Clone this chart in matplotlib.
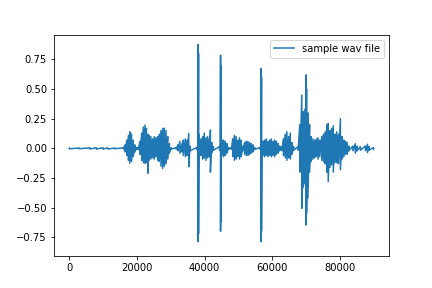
# Waveform of a sample wav file (envelope)
import numpy as np
import matplotlib
matplotlib.use("Agg")
import matplotlib.pyplot as plt

# sample index, upper peak, lower peak
env_x = [0, 3000, 6100, 8000, 10000, 11400, 13500, 16000,
         16500, 17000, 17500, 17900, 18400, 18900, 19400, 19900, 20400,
         20900, 21400, 21900, 22400, 22800, 23200, 23600, 24100, 24600, 25100,
         25600, 26100, 26600, 27100, 27600, 28100, 28600, 29100, 29600, 30100,
         31600, 32100, 32700, 33300, 33700, 34300, 34800, 35300, 35700, 37700,
         38000, 38100, 38200, 38300, 38900, 39400, 39900, 40400, 40900, 41400, 41700, 42100,
         42600, 44400, 44600, 44700, 44800, 44900, 45100, 45600, 46100, 46600, 47100, 47900,
         48300, 48800, 49300, 49800, 50300, 50800, 51300, 51800, 52300, 52800,
         53300, 53800, 54300, 54800, 56400, 56600, 56700, 56800, 56900, 57200, 57700,
         58200, 58700, 59200, 59700, 60200, 60700, 61200, 61700, 62200, 62900,
         63300, 63800, 64300, 64800, 65300, 65800, 66300, 67600,
         68100, 68700, 69100, 69600, 70000, 70100, 70500, 71000, 71500, 72000, 72500,
         73000, 73500, 74000, 74600, 75100, 75600, 76100, 76500, 77000, 77500,
         78000, 78500, 79000, 79500, 80100, 80600, 81100, 81600, 82100, 82600,
         83800, 84500, 85000, 86000, 87500, 88100, 88600, 89900]
env_hi = [0.003, 0.003, 0.005, 0.006, 0.006, 0.005, 0.003, 0.005,
          0.03, 0.07, 0.11, 0.14, 0.12, 0.07, 0.03, 0.008, 0.008,
          0.06, 0.13, 0.18, 0.196, 0.17, 0.12, 0.11, 0.10, 0.08, 0.10,
          0.09, 0.10, 0.12, 0.15, 0.17, 0.17, 0.15, 0.10, 0.04, 0.006,
          0.006, 0.03, 0.06, 0.04, 0.07, 0.08, 0.07, 0.125, 0.02, 0.008,
          0.02, 0.876, 0.80, 0.12, 0.08, 0.10, 0.13, 0.09, 0.10, 0.08, 0.155, 0.05,
          0.015, 0.015, 0.02, 0.786, 0.70, 0.07, 0.07, 0.07, 0.06, 0.04, 0.008, 0.008,
          0.08, 0.11, 0.10, 0.07, 0.09, 0.07, 0.02, 0.05, 0.06, 0.06,
          0.05, 0.04, 0.03, 0.008, 0.008, 0.02, 0.674, 0.60, 0.06, 0.06, 0.07,
          0.08, 0.06, 0.07, 0.08, 0.06, 0.07, 0.06, 0.04, 0.02, 0.02,
          0.08, 0.12, 0.14, 0.10, 0.13, 0.05, 0.015, 0.015,
          0.20, 0.45, 0.31, 0.33, 0.62, 0.50, 0.30, 0.20, 0.10, 0.08, 0.07,
          0.08, 0.09, 0.07, 0.10, 0.12, 0.14, 0.20, 0.21, 0.15, 0.17,
          0.19, 0.12, 0.14, 0.12, 0.25, 0.10, 0.07, 0.06, 0.05, 0.02,
          0.02, 0.04, 0.02, 0.015, 0.02, 0.035, 0.015, 0.008]
env_lo = [-0.003, -0.003, -0.005, -0.006, -0.006, -0.005, -0.003, -0.005,
          -0.03, -0.06, -0.10, -0.125, -0.11, -0.07, -0.03, -0.008, -0.008,
          -0.05, -0.10, -0.12, -0.125, -0.12, -0.21, -0.10, -0.09, -0.08, -0.09,
          -0.07, -0.10, -0.11, -0.15, -0.17, -0.15, -0.13, -0.09, -0.04, -0.006,
          -0.006, -0.02, -0.04, -0.03, -0.06, -0.07, -0.06, -0.155, -0.02, -0.008,
          -0.02, -0.787, -0.72, -0.10, -0.06, -0.09, -0.08, -0.10, -0.08, -0.07, -0.20, -0.04,
          -0.015, -0.015, -0.02, -0.70, -0.62, -0.06, -0.06, -0.07, -0.06, -0.04, -0.008, -0.008,
          -0.07, -0.10, -0.09, -0.07, -0.09, -0.07, -0.02, -0.05, -0.06, -0.06,
          -0.05, -0.04, -0.03, -0.008, -0.008, -0.02, -0.787, -0.70, -0.06, -0.06, -0.07,
          -0.06, -0.07, -0.06, -0.07, -0.06, -0.07, -0.05, -0.04, -0.02, -0.02,
          -0.06, -0.08, -0.10, -0.08, -0.09, -0.05, -0.015, -0.015,
          -0.20, -0.505, -0.33, -0.30, -0.646, -0.55, -0.42, -0.20, -0.11, -0.09, -0.08,
          -0.07, -0.09, -0.07, -0.10, -0.11, -0.13, -0.20, -0.28, -0.16, -0.14,
          -0.20, -0.12, -0.12, -0.13, -0.18, -0.09, -0.07, -0.05, -0.05, -0.02,
          -0.02, -0.04, -0.02, -0.015, -0.02, -0.035, -0.015, -0.008]

# zigzag between the upper and lower peak at each sample position
x = np.repeat(env_x, 2)
y = np.column_stack([env_hi, env_lo]).ravel()

fig, ax = plt.subplots(figsize=(6, 4), dpi=72)
ax.plot(x, y, label="sample wav file")
ax.set_ylim(-0.91, 0.96)
ax.legend()
plt.savefig("out.png")
